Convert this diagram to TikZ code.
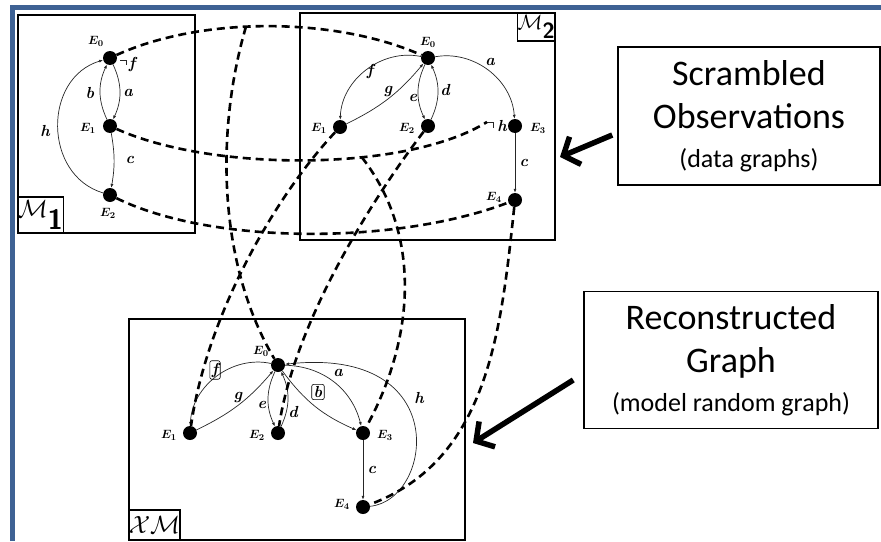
\documentclass[tikz,border=0pt]{standalone}
\usepackage{fontspec}
\newfontfamily\calibri{Carlito}
\usetikzlibrary{arrows.meta,positioning}
\definecolor{frameblue}{RGB}{62,98,148}
\begin{document}
\begin{tikzpicture}[x=1pt,y=-1pt,
		vtx/.style={circle,fill=black,inner sep=0pt,minimum size=14pt},
		vlab/.style={font=\fontsize{13}{15}\selectfont\boldmath,inner sep=1pt},
		elab/.style={font=\fontsize{16}{18}\selectfont\bfseries\itshape,inner sep=1pt},
		blab/.style={elab,draw,rounded corners=2pt,inner sep=2pt,line width=0.6pt},
		edge/.style={line width=0.7pt,black!85,-{Latex[length=4pt,width=3pt]}},
		hook/.style={line width=0.7pt,black!85},
		link/.style={line width=2.6pt,dash pattern=on 8pt off 5pt},
		panel/.style={draw,line width=1.8pt,inner sep=0pt},
		tag/.style={draw,line width=1.5pt,inner sep=0pt},
		note/.style={draw,line width=1.5pt,align=center,font=\calibri\fontsize{36}{43}\selectfont},
		pointer/.style={line width=5.5pt,-{Straight Barb[length=13pt,width=30pt]}}]
	\useasboundingbox (0,0) rectangle (881,541);
	\draw[line width=5pt,frameblue] (12,541) -- (12,7.5) -- (881,7.5);
	\node[panel,minimum width=177pt,minimum height=218pt] (m1) at (106.5,124) {};
	\node[panel,minimum width=255pt,minimum height=227pt] (m2) at (427.5,126.5) {};
	\node[panel,minimum width=336pt,minimum height=221pt] (xm) at (297,429.5) {};
	\node[tag,minimum width=42pt,minimum height=36pt,anchor=south west,font=\fontsize{28}{28}\selectfont] (m1tag) at (m1.south west) {$\mathcal{M}_{\textsf{\textbf{1}}}$};
	\node[tag,minimum width=32pt,minimum height=28pt,anchor=north east,font=\fontsize{22}{22}\selectfont] (m2tag) at (m2.north east) {$\mathcal{M}_{\textsf{\textbf{2}}}$};
	\node[tag,minimum width=46pt,minimum height=30pt,anchor=south west,font=\fontsize{24}{24}\selectfont] (xmtag) at (xm.south west) {$\mathcal{XM}$};
	\node[note,minimum width=262pt,minimum height=138pt] (obs) at (749,116) {Scrambled\\Observations\\[-4pt]{\fontsize{26}{30}\selectfont(data graphs)}};
	\node[note,minimum width=294pt,minimum height=137pt] (rec) at (731,360) {Reconstructed\\Graph\\[-4pt]{\fontsize{26}{30}\selectfont(model random graph)}};
	\coordinate (tip1) at (560,157);
	\coordinate (tip2) at (473,443);
	\draw[pointer] ([xshift=-5pt,yshift=-19pt]obs.west) -- (tip1);
	\draw[pointer] ([xshift=-10pt,yshift=-20pt]rec.west) -- (tip2);
	\node[vtx] (m1e0) at (110,58) {};
	\node[vtx] (m1e1) at (110,126) {};
	\node[vtx] (m1e2) at (110,195) {};
	\node[vlab] at (96,41) {$E_0$};
	\node[vlab] at (88,128) {$E_1$};
	\node[vlab] at (108,213) {$E_2$};
	\draw[edge] (m1e0) to[bend left=25] (m1e1);
	\draw[edge] (m1e1) to[bend left=25] (m1e0);
	\draw[edge] (m1e1) to[bend left=10] (m1e2);
	\draw[edge] (m1e2) .. controls +(-67,-20) and +(-67,20) .. (m1e0);
	\coordinate (m1hk) at (120,60);
	\draw[hook] (m1hk) -- ++(6,0) -- ++(0,5);
	\node[elab] (m1a) at (128,93) {a};
	\node[elab] (m1b) at (90,93) {b};
	\node[elab] (m1c) at (130,160) {c};
	\node[elab] (m1f) at (132,64) {f};
	\node[elab] (m1h) at (45,131) {h};
	\node[vtx] (m2e0) at (428,58) {};
	\node[vtx] (m2e1) at (340,127) {};
	\node[vtx] (m2e2) at (428,126) {};
	\node[vtx] (m2e3) at (515,126) {};
	\node[vtx] (m2e4) at (515,200) {};
	\node[vlab] at (428,42) {$E_0$};
	\node[vlab] at (319,128) {$E_1$};
	\node[vlab] at (407,128) {$E_2$};
	\node[vlab] at (538,128) {$E_3$};
	\node[vlab] at (494,197) {$E_4$};
	\draw[edge] (m2e0) to[bend right=50] (m2e1);
	\draw[edge] (m2e1) to[bend right=12] (m2e0);
	\draw[edge] (m2e0) to[bend right=25] (m2e2);
	\draw[edge] (m2e2) to[bend right=25] (m2e0);
	\draw[edge] (m2e0) to[bend left=48] (m2e3);
	\draw[edge] (m2e3) -- (m2e4);
	\coordinate (m2hk) at (487,122);
	\draw[hook] (m2hk) -- ++(6,0) -- ++(0,6);
	\node[elab] (m2f) at (370,71) {f};
	\node[elab] (m2g) at (388,91) {g};
	\node[elab] (m2e) at (413,98) {e};
	\node[elab] (m2d) at (445,90) {d};
	\node[elab] (m2a) at (490,62) {a};
	\node[elab] (m2c) at (524,163) {c};
	\node[elab] (m2h) at (502,126) {h};
	\node[vtx] (m3e0) at (278,365) {};
	\node[vtx] (m3e1) at (190,433) {};
	\node[vtx] (m3e2) at (278,433) {};
	\node[vtx] (m3e3) at (363,433) {};
	\node[vtx] (m3e4) at (363,507) {};
	\node[vlab] at (261,351) {$E_0$};
	\node[vlab] at (169,435) {$E_1$};
	\node[vlab] at (257,435) {$E_2$};
	\node[vlab] at (385,435) {$E_3$};
	\node[vlab] at (342,504) {$E_4$};
	\draw[edge] (m3e0) to[bend right=50] (m3e1);
	\draw[edge] (m3e1) to[bend right=12] (m3e0);
	\draw[edge] (m3e0) to[bend right=25] (m3e2);
	\draw[edge] (m3e2) to[bend right=25] (m3e0);
	\draw[edge] (m3e0) to[bend left=37] (m3e3);
	\draw[edge] (m3e0) to[bend right=15] (m3e3);
	\draw[edge] (m3e3) -- (m3e4);
	\draw[edge] (m3e4) .. controls +(70,-7) and +(176,-19) .. (m3e0);
	\node[blab] (m3f) at (215,370) {f};
	\node[elab] (m3g) at (238,397) {g};
	\node[elab] (m3e) at (262,405) {e};
	\node[elab] (m3d) at (293,412) {d};
	\node[elab] (m3a) at (338,373) {a};
	\node[blab] (m3b) at (318,392) {b};
	\node[elab] (m3c) at (372,470) {c};
	\node[elab] (m3h) at (419,398) {h};
	\draw[link] (m1e0) .. controls +(92,-42) and +(-92,-41) .. (m2e0) coordinate[pos=0.43] (j0);
	\draw[link] (m1e1) .. controls +(102,46) and +(-80,50) .. (m2hk) coordinate[pos=0.63] (j1);
	\draw[link] (m1e2) .. controls +(102,50) and +(-118,45) .. (m2e4);
	\draw[link] (j0) .. controls +(-30,102) and +(-61,-103) .. (m3e0);
	\draw[link] (m2e1) .. controls +(-69,74) and +(16,-113) .. (m3e1);
	\draw[link] (m2e2) .. controls +(-53,69) and +(17,-113) .. (m3e2);
	\draw[link] (j1) .. controls +(61,78) and +(51,-93) .. (m3e3);
	\draw[link] (m2e4) .. controls +(-14,130) and +(126,-47) .. (m3e4);
\end{tikzpicture}
\end{document}
